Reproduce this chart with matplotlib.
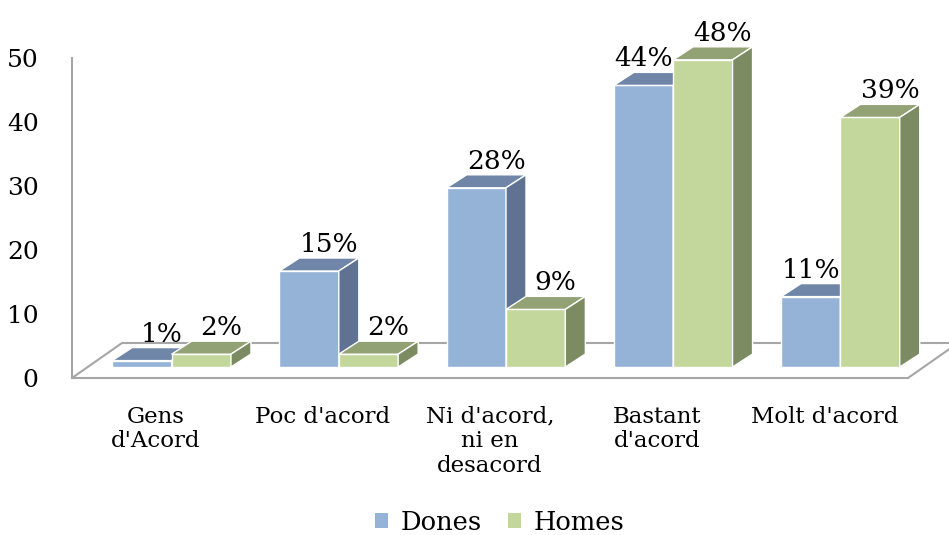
import matplotlib
matplotlib.use("Agg")
import matplotlib.pyplot as plt
from matplotlib.patches import Polygon, Patch

categories = ["Gens\nd'Acord", "Poc d'acord", "Ni d'acord,\nni en\ndesacord", "Bastant\nd'acord", "Molt d'acord"]
dones = [1, 15, 28, 44, 11]
homes = [2, 2, 9, 48, 39]
series_names = ["Dones", "Homes"]
yticks = [0, 10, 20, 30, 40, 50]

FONT = "DejaVu Serif"
plt.rcParams['font.family'] = [FONT]

W, H = 949, 535
fig = plt.figure(figsize=(W / 100, H / 100), dpi=100)
ax_l, ax_r, ax_b, ax_t = 72, 908, 157, 477
ax = fig.add_axes([ax_l / W, ax_b / H, (ax_r - ax_l) / W, (ax_t - ax_b) / H])
n = len(categories)
ax.set_xlim(0, n)
ax.set_ylim(0, 50)
ppx = (ax_r - ax_l) / n
ppy = (ax_t - ax_b) / 50.0

# pixel geometry converted to data units
ox, oy = 16 / ppx, 11 / ppy          # bar front-face offset (into depth)
ddx, ddy = 20 / ppx, 13 / ppy        # bar depth
fdx, fdy = 50 / ppx, 35 / ppy        # floor depth
w = 0.355

grey = "#a6a6a6"
floor = Polygon([(0, 0), (n, 0), (n + fdx, fdy), (fdx, fdy)], closed=True,
                facecolor="white", edgecolor=grey, lw=1.5, clip_on=False, zorder=1)
ax.add_patch(floor)

cols = {
    "Dones": ("#95b3d7", "#6f86a8", "#5f7291"),
    "Homes": ("#c3d69b", "#92a274", "#7c8b61"),
}

z = 3
for i in range(n):
    for s, vals, sgn in (("Dones", dones, -1), ("Homes", homes, 1)):
        v = vals[i]
        front, top, side = cols[s]
        x0 = i + 0.5 + (w / 2) * sgn - w / 2 + ox
        ax.bar(x0, v, width=w, bottom=oy, align="edge", color=front,
               edgecolor="white", linewidth=1, zorder=z, clip_on=False)
        t = oy + v
        ax.add_patch(Polygon([(x0, t), (x0 + w, t), (x0 + w + ddx, t + ddy), (x0 + ddx, t + ddy)],
                             closed=True, facecolor=top, edgecolor="white", lw=1,
                             zorder=z + 0.1, clip_on=False))
        ax.add_patch(Polygon([(x0 + w, oy), (x0 + w, t), (x0 + w + ddx, t + ddy), (x0 + w + ddx, oy + ddy)],
                             closed=True, facecolor=side, edgecolor="white", lw=1,
                             zorder=z + 0.2, clip_on=False))
        z += 1
        lx = x0 + w / 2 + ddx
        if s == "Dones" and homes[i] > v and v > 5:
            lx = x0 + w / 2
        ax.text(lx, t + ddy + 6 / ppy, f"{v}%", ha="center", va="baseline",
                fontsize=19, color="black", zorder=50, clip_on=False)

for sp in ("top", "right", "bottom"):
    ax.spines[sp].set_visible(False)
ax.spines["left"].set_color(grey)
ax.spines["left"].set_linewidth(1.5)
ax.set_yticks(yticks)
ax.set_yticklabels([str(t) for t in yticks], fontsize=18, color="black")
ax.tick_params(axis="y", length=0, pad=24)
ax.set_xticks([i + 0.5 for i in range(n)])
ax.set_xticklabels(categories, fontsize=16.5, color="black", linespacing=1.15, va="top")
ax.tick_params(axis="x", length=0, pad=20)
ax.patch.set_visible(False)

handles = [Patch(facecolor=cols[s][0], edgecolor="none") for s in series_names]
fig.legend(handles, series_names, loc="center", bbox_to_anchor=(500 / W, 13 / H),
           ncol=2, frameon=False, fontsize=18.5, handlelength=0.5, handleheight=0.5,
           handletextpad=0.5, columnspacing=1.0)

fig.savefig("out.png", dpi=100)
